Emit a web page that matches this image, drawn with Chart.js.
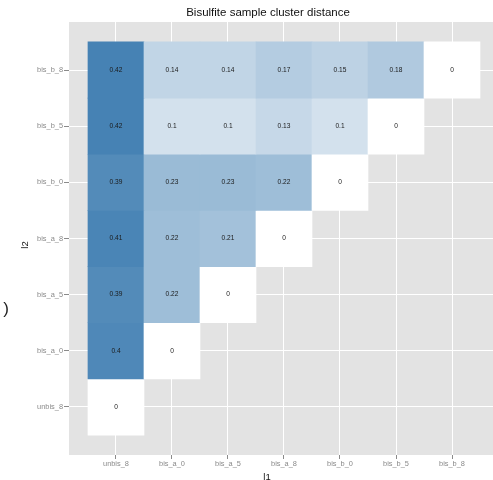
<!DOCTYPE html>
<html>
<head>
<meta charset="utf-8">
<script src="https://cdn.jsdelivr.net/npm/chart.js@4/dist/chart.umd.min.js"></script>
<style>
  html, body { margin: 0; padding: 0; background: #ffffff; }
  #wrap { width: 493px; height: 480px; position: relative; }
</style>
</head>
<body>
<div id="wrap"><canvas id="c" width="493" height="480"></canvas></div>
<script>
// Sample names, shared by both axes (l1 across, l2 up)
const samples = ['unbis_8', 'bis_a_0', 'bis_a_5', 'bis_a_8', 'bis_b_0', 'bis_b_5', 'bis_b_8'];

// Cluster distances: one row per l2 sample, values ordered by l1 sample
const row_unbis_8 = [0];
const row_bis_a_0 = [0.4, 0];
const row_bis_a_5 = [0.39, 0.22, 0];
const row_bis_a_8 = [0.41, 0.22, 0.21, 0];
const row_bis_b_0 = [0.39, 0.23, 0.23, 0.22, 0];
const row_bis_b_5 = [0.42, 0.1, 0.1, 0.13, 0.1, 0];
const row_bis_b_8 = [0.42, 0.14, 0.14, 0.17, 0.15, 0.18, 0];

const rows = [row_unbis_8, row_bis_a_0, row_bis_a_5, row_bis_a_8, row_bis_b_0, row_bis_b_5, row_bis_b_8];

const titleText = 'Bisulfite sample cluster distance';
const xTitle = 'l1';
const yTitle = 'l2';

// ---- colour scale: white -> steelblue ----
const lowRGB = [255, 255, 255];
const highRGB = [70, 130, 180];
const allValues = rows.flat();
const vMin = Math.min(...allValues), vMax = Math.max(...allValues);
function fillFor(v) {
  const t = (v - vMin) / (vMax - vMin);
  const c = lowRGB.map((l, i) => Math.round(l + (highRGB[i] - l) * t));
  return `rgb(${c[0]},${c[1]},${c[2]})`;
}

// ---- one floating bar per cell ----
const cells = [];
rows.forEach((vals, r) => {
  vals.forEach((v, c) => cells.push({ x: c, y: [r - 0.5, r + 0.5], v: v }));
});

const panelBg = {
  id: 'panelBg',
  beforeDraw(chart) {
    const { ctx, chartArea: a } = chart;
    ctx.save();
    ctx.fillStyle = '#e3e3e3';
    ctx.fillRect(a.left, a.top, a.right - a.left, a.bottom - a.top);
    ctx.restore();
  }
};

const cellLabels = {
  id: 'cellLabels',
  afterDatasetsDraw(chart) {
    const { ctx } = chart;
    const meta = chart.getDatasetMeta(0);
    ctx.save();
    ctx.font = '6.6px "Liberation Sans", Arial, sans-serif';
    ctx.fillStyle = '#1a1a1a';
    ctx.textAlign = 'center';
    ctx.textBaseline = 'middle';
    meta.data.forEach((el, i) => {
      const p = el.getCenterPoint();
      ctx.fillText(String(cells[i].v), p.x, p.y);
    });
    ctx.restore();
  }
};

const plotTexts = {
  id: 'plotTexts',
  afterDraw(chart) {
    const { ctx } = chart;
    ctx.save();
    ctx.textAlign = 'center';
    ctx.textBaseline = 'middle';
    ctx.fillStyle = '#111111';
    ctx.font = '11.5px "Liberation Sans", Arial, sans-serif';
    ctx.fillText(titleText, 268, 13);
    ctx.font = '9.5px "Liberation Sans", Arial, sans-serif';
    ctx.fillText(xTitle, 267, 477);
    ctx.save();
    ctx.translate(25, 245);
    ctx.rotate(-Math.PI / 2);
    ctx.fillText(yTitle, 0, 0);
    ctx.restore();
    ctx.font = '17px "Liberation Sans", Arial, sans-serif';
    ctx.fillStyle = '#222222';
    ctx.fillText(')', 6, 309);
    ctx.restore();
  }
};

const tickFont = { family: '"Liberation Sans", Arial, sans-serif', size: 7.4 };
const tickGrey = '#8a8a8a';
const sampleTicks = (scale) => { scale.ticks = samples.map((_, i) => ({ value: i })); };

new Chart(document.getElementById('c'), {
  type: 'bar',
  data: {
    datasets: [{
      data: cells,
      backgroundColor: cells.map(c => fillFor(c.v)),
      borderWidth: 0,
      barPercentage: 1,
      categoryPercentage: 1
    }]
  },
  options: {
    responsive: false,
    animation: false,
    devicePixelRatio: 1,
    layout: { padding: { top: 22, right: 0, bottom: 0, left: 0 } },
    plugins: { legend: { display: false }, tooltip: { enabled: false }, title: { display: false } },
    scales: {
      x: {
        type: 'linear',
        offset: false,
        min: -0.839,
        max: 6.732,
        afterBuildTicks: sampleTicks,
        afterFit: (s) => { s.height = 25; },
        border: { display: false },
        grid: { offset: false, color: '#ffffff', lineWidth: 1, drawTicks: true, tickLength: 4, tickColor: tickGrey, tickWidth: 1 },
        ticks: { callback: (v) => samples[v], color: tickGrey, font: tickFont, padding: 1, maxRotation: 0, autoSkip: false }
      },
      y: {
        type: 'linear',
        offset: false,
        min: -0.855,
        max: 6.855,
        afterBuildTicks: sampleTicks,
        afterFit: (s) => { s.width = 69; },
        border: { display: false },
        grid: { offset: false, color: '#ffffff', lineWidth: 1, drawTicks: true, tickLength: 5, tickColor: tickGrey, tickWidth: 1 },
        ticks: { callback: (v) => samples[v], color: tickGrey, font: tickFont, padding: 1, autoSkip: false }
      }
    }
  },
  plugins: [panelBg, cellLabels, plotTexts]
});
</script>
</body>
</html>
